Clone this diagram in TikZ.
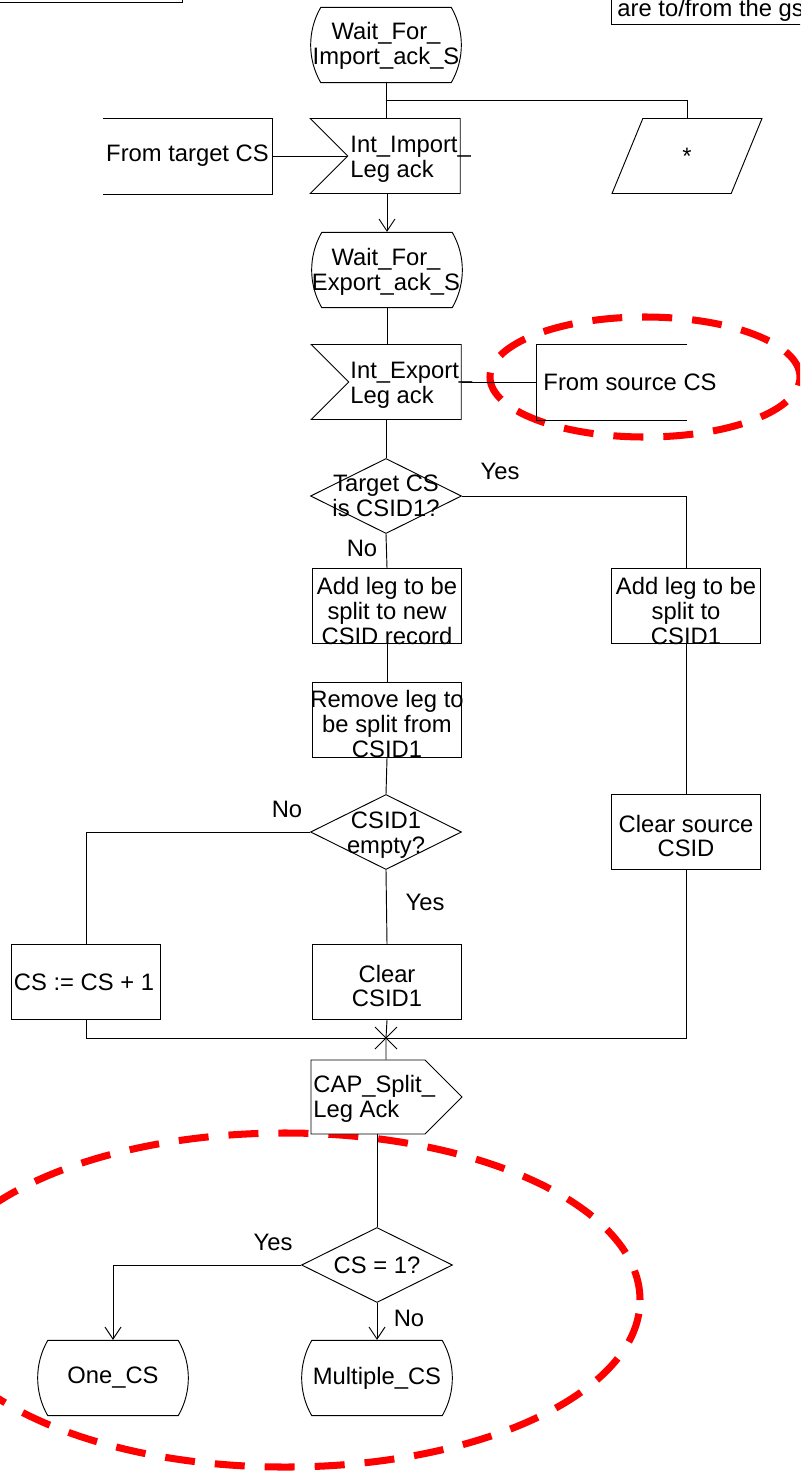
\documentclass[tikz,border=0pt]{standalone}
\usepackage{fontspec}
\setmainfont{Liberation Sans}
\usetikzlibrary{shapes.misc,shapes.symbols,shapes.geometric,arrows.meta}

\begin{document}
\begin{tikzpicture}[
  x=0.03cm, y=-0.03cm,
  line width=0.8pt,
  font=\fontsize{20.3}{21}\selectfont,
  txt/.style={inner sep=0pt, align=center},
  state/.style={
    draw, fill=white, rounded rectangle,
    rounded rectangle arc length=60,
    minimum width=4.5cm, minimum height=2.26cm, inner sep=0pt
  },
  inp/.style={
    draw, fill=white, signal, signal from=west, signal to=nowhere,
    minimum width=4.5cm, minimum height=2.25cm, inner sep=0pt
  },
  outp/.style={
    draw, fill=white, signal, signal to=east,
    minimum width=4.53cm, minimum height=2.22cm, inner sep=0pt
  },
  task/.style={draw, fill=white, minimum width=4.47cm, minimum height=2.26cm, inner sep=0pt},
  dec/.style={draw, fill=white, diamond, minimum width=4.53cm, minimum height=2.25cm, inner sep=0pt},
  anybox/.style={
    draw, fill=white, trapezium,
    trapezium left angle=77, trapezium right angle=103,
    trapezium stretches=true,
    minimum width=4.5cm, minimum height=2.25cm, inner sep=2pt
  },
  cmt/.style={minimum height=2.25cm, inner sep=0pt},
  yesno/.style={inner sep=0pt},
  flow/.style={-{Straight Barb[length=3.6mm, width=4.8mm]}},
  ring/.style={draw=red, line width=6pt, dash pattern=on 0.9cm off 0.6cm}
]
\useasboundingbox (0,0) rectangle (800,1477);
\clip (0,0) rectangle (800,1477);

% --- red rings ---
\draw[ring] (645,377) ellipse [x radius=4.65cm, y radius=1.8cm];
\draw[ring] (285,1300) ellipse [x radius=10.65cm, y radius=5.01cm];

% --- comments cut off by the page ---
\draw (-20,-40) rectangle (182,2);
\node[draw, anchor=south west, inner xsep=0.18cm, inner ysep=0.09cm] (note) at (611,25) {are to/from the gs};

% --- first state ---
\node[state] (s1) at (386,45) {};
\node[txt] (s1t) at (386,46) {Wait\_For\_\\Import\_ack\_S};

% signal centre sits on the text box, so shift by the notch
\node[inp] (in1) at (404,156) {};
\node[txt, anchor=west, align=left] (in1t) at (350,159) {Int\_Import\_\\Leg ack};

\node[cmt, minimum width=5.07cm] (src1) at (187.5,156) {From target CS};
\draw (src1.north west) -- (src1.north east) -- (src1.south east) -- (src1.south west);

\node[anybox] (any) at (687,156) {*};

% --- second state ---
\node[state] (s2) at (387,270) {};
\node[txt] (s2t) at (386,272) {Wait\_For\_\\Export\_ack\_S};

\node[inp] (in2) at (405,382) {};
\node[txt, anchor=west, align=left] (in2t) at (350,385) {Int\_Export\_\\Leg ack};

\node[cmt, minimum width=4.5cm] (src2) at (612,382) {};
\draw (src2.north east) -- (src2.north west) -- (src2.south west) -- (src2.south east);
\node[txt, anchor=west] (src2t) at (543,382) {From source CS};

% --- decisions and tasks ---
\node[dec] (d1) at (386,496) {};
\node[txt] (d1t) at (386,496) {Target CS\\is CSID1?};

\node[task] (t1) at (387,606) {};
\node[txt] (t1t) at (387,611) {Add leg to be\\split to new\\CSID record};
\node[task] (t2) at (686,606) {};
\node[txt] (t2t) at (686,611) {Add leg to be\\split to\\CSID1};
\node[task] (t3) at (387,720) {};
\node[txt] (t3t) at (387,724) {Remove leg to\\be split from\\CSID1};

\node[dec] (d2) at (386,832) {};
\node[txt] (d2t) at (386,835) {CSID1\\empty?};

\node[task] (t6) at (686,832) {};
\node[txt] (t6t) at (686,836) {Clear source\\CSID};
\node[task] (t4) at (86,982) {};
\node[txt] (t4t) at (84,982) {CS := CS + 1};
\node[task] (t5) at (387,982) {};
\node[txt] (t5t) at (387,986) {Clear\\CSID1};

% --- output and last decision ---
\node[outp] (out1) at (368,1097) {};
\node[txt, anchor=west, align=left] (out1t) at (313,1099) {CAP\_Split\_\\Leg Ack};

\node[dec] (d3) at (377,1265) {};
\node[txt] (d3t) at (377,1265) {CS = 1?};

\node[state] (s3) at (113,1378) {};
\node[txt] (s3t) at (113,1378) {One\_CS};
\node[state] (s4) at (377,1378) {};
\node[txt] (s4t) at (377,1378) {Multiple\_CS};

% --- yes / no ---
\node[yesno] (y1) at (500,471) {Yes};
\node[yesno] (n1) at (362,548) {No};
\node[yesno] (n2) at (287,809) {No};
\node[yesno] (y2) at (425,902) {Yes};
\node[yesno] (y3) at (273,1242) {Yes};
\node[yesno] (n3) at (409,1318) {No};

% --- connectors ---
\coordinate (br1) at (386,100);
\coordinate (join) at (386,1038);
\draw (s1.south) -- (s1.south |- in1.north);
\draw (br1) -| (any.north);
\draw (src1.east) -- (in1);
\draw[flow] (s2.north |- in1.south) -- (s2.north);
\draw (s2.south) -- (s2.south |- in2.north);
\draw (in2.east) -- (src2.west);
\draw (d1.north |- in2.south) -- (d1.north);
\draw (d1.east) -| (t2.north);
\draw (d1.south) -- (t1.north);
\draw (t1.south) -- (t3.north);
\draw (t3.south) -- (d2.north);
\draw (d2.west) -| (t4.north);
\draw (d2.south) -- (t5.north);
\draw (t2.south) -- (t6.north);
\draw (t4.south) |- (join) -| (t6.south);
\draw (t5.south) -- (join) -- (join |- out1.north);
\draw ([shift={(-11,-11)}]join) -- ([shift={(11,11)}]join)
      ([shift={(-11,11)}]join) -- ([shift={(11,-11)}]join);
\draw (d3.north |- out1.south) -- (d3.north);
\draw[flow] (d3.west) -| (s3.north);
\draw[flow] (d3.south) -- (s4.north);

\end{tikzpicture}
\end{document}
